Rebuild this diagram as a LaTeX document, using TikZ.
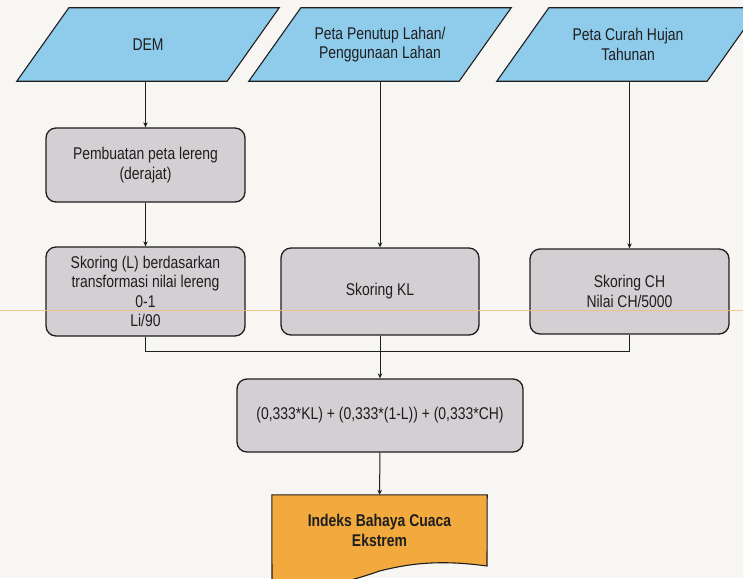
\documentclass[tikz,border=0pt]{standalone}
\usepackage{fontspec}
\setmainfont{Liberation Sans}[FakeStretch=0.82]
\usetikzlibrary{arrows.meta,calc,backgrounds}
\definecolor{paper}{HTML}{F7F6F3}
\definecolor{inblue}{HTML}{8FCBEA}
\definecolor{procgray}{HTML}{D3CFD3}
\definecolor{outorange}{HTML}{F2AA3E}
\definecolor{ink}{HTML}{1E1E1E}
\definecolor{scanline}{HTML}{F4BE82}

\begin{document}
\begin{tikzpicture}[x=1pt,y=-1pt,
  every node/.style={font=\fontsize{17}{19.5}\selectfont, text=ink, align=center},
  inputbox/.style={minimum width=210pt, minimum height=73pt, inner sep=0pt},
  procbox/.style={draw=ink, line width=1.3pt, fill=procgray, rounded corners=10pt, inner sep=0pt},
  outbox/.style={minimum width=215pt, minimum height=71pt, inner sep=0pt, font=\fontsize{17}{19.5}\selectfont\bfseries},
  link/.style={draw=ink, line width=1pt},
  arr/.style={link, -{Stealth[length=5pt,width=4.5pt]}},
  para/.style={draw=ink, line width=1.1pt, fill=inblue},
  docshape/.style={draw=ink, line width=1.1pt, fill=outorange}
]
\useasboundingbox (0,0) rectangle (743,578);

% input data (parallelograms are drawn on the background layer)
\node[inputbox] (dem)   at (148,44.5) {DEM};
\node[inputbox] (lahan) at (380,44.5) {Peta Penutup Lahan/\\Penggunaan Lahan};
\node[inputbox] (hujan) at (628,44.5) {Peta Curah Hujan\\Tahunan};

% processing steps
\node[procbox, minimum width=199pt, minimum height=74pt] (pemb) at (145.5,165)
  {Pembuatan peta lereng\\(derajat)};
\node[procbox, minimum width=199pt, minimum height=89pt] (skorL) at (145.5,291.5)
  {Skoring (L) berdasarkan\\transformasi nilai lereng\\0-1\\Li/90};
\node[procbox, minimum width=198pt, minimum height=87pt] (skorKL) at (380,291.5)
  {Skoring KL};
\node[procbox, minimum width=199pt, minimum height=85pt] (skorCH) at (629.5,291.5)
  {Skoring CH\\Nilai CH/5000};
\node[procbox, minimum width=286pt, minimum height=73pt] (formula) at (380,415.5)
  {(0,333*KL) + (0,333*(1-L)) + (0,333*CH)};

% output
\node[outbox] (indeks) at (379.5,530.5) {Indeks Bahaya Cuaca\\Ekstrem};

% connectors
\coordinate (join) at (380,351);
\draw[arr] (dem.south -| pemb.north) -- (pemb.north);
\draw[arr] (pemb) -- (skorL);
\draw[arr] (lahan) -- (skorKL);
\draw[arr] (hujan.south -| skorCH.north) -- (skorCH.north);
\draw[link] (skorL.south) |- (join);
\draw[link] (skorCH.south) |- (join);
\draw[arr] (skorKL.south) -- (formula.north);
\draw[arr] (formula) -- (indeks);

\begin{scope}[on background layer]
  \fill[paper] (0,0) rectangle (743,578);
  \foreach \n in {dem,lahan,hujan}{
    \draw[para] ($(\n.south west)+(-26,0)$) -- ($(\n.south east)+(-26,0)$)
      -- ($(\n.north east)+(26,0)$) -- ($(\n.north west)+(26,0)$) -- cycle;
  }
  \draw[docshape] (indeks.north west) -- (indeks.north east)
    -- ($(indeks.center)+(107.5,35.5)$)
    .. controls ($(indeks.center)+(60,29)$) and ($(indeks.center)+(30,33)$) .. ($(indeks.center)+(0,40.5)$)
    .. controls ($(indeks.center)+(-35,53)$) and ($(indeks.center)+(-80,63)$) .. ($(indeks.center)+(-107.5,59.5)$)
    -- cycle;
\end{scope}

% faint orange streak across the sheet
\draw[scanline, line width=0.8pt, opacity=0.85] (0,310.5) -- (743,310.5);
\end{tikzpicture}
\end{document}
